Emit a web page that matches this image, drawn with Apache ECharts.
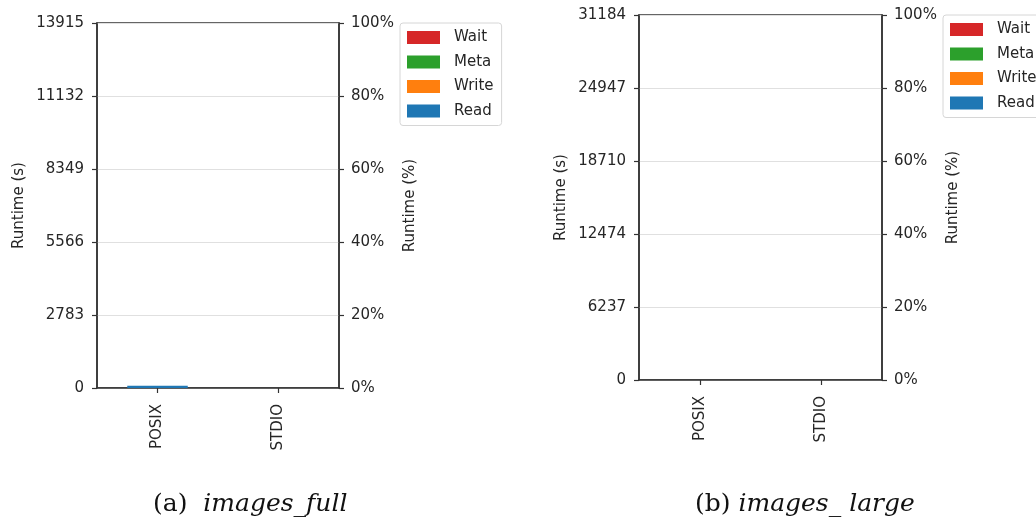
<!DOCTYPE html>
<html>
<head>
<meta charset="utf-8">
<script src="https://cdn.jsdelivr.net/npm/echarts@6/dist/echarts.min.js"></script>
<style>
html, body { margin: 0; padding: 0; background: #fff; }
#main { width: 1036px; height: 524px; }
</style>
</head>
<body>
<div id="main"></div>
<script>
// categories and values
var categories = ['POSIX', 'STDIO'];
var seriesNames = ['Read', 'Write', 'Meta', 'Wait'];
var legendOrder = ['Wait', 'Meta', 'Write', 'Read'];
var colors = ['#1f77b4', '#ff7f0e', '#2ca02c', '#d62728'];

// (a) images_full
var fullRead = [90, 0];
var fullWrite = [0, 0];
var fullMeta = [0, 0];
var fullWait = [0, 0];
var fullMax = 13915;

// (b) images_large
var largeRead = [0, 0];
var largeWrite = [0, 0];
var largeMeta = [0, 0];
var largeWait = [0, 0];
var largeMax = 31184;

var pctTicks = [0, 20, 40, 60, 80, 100];

var textColor = '#262626';
var axisColor = '#333';
var fontFam = 'DejaVu Sans';

var myChart = echarts.init(document.getElementById('main'));

function leftAxis(gridIndex, max) {
    return {
        type: 'value', gridIndex: gridIndex, position: 'left',
        min: 0, max: max, interval: max / 5,
        name: 'Runtime (s)', nameLocation: 'middle', nameGap: 70,
        nameTextStyle: {color: textColor, fontSize: 15, fontFamily: fontFam},
        axisLine: {show: true, lineStyle: {color: axisColor, width: 1.5}},
        axisTick: {show: true, length: 5, lineStyle: {color: axisColor, width: 1.2}},
        axisLabel: {
            color: textColor, fontSize: 15, fontFamily: fontFam, margin: 13,
            formatter: function (v) { return Math.round(v).toString(); }
        },
        splitLine: {show: true, lineStyle: {color: '#e0e0e0', width: 1.2}}
    };
}

function rightAxis(gridIndex) {
    return {
        type: 'value', gridIndex: gridIndex, position: 'right',
        min: pctTicks[0], max: pctTicks[pctTicks.length - 1], interval: pctTicks[1] - pctTicks[0],
        name: 'Runtime (%)', nameLocation: 'middle', nameGap: 64,
        nameTextStyle: {color: textColor, fontSize: 15, fontFamily: fontFam},
        axisLine: {show: true, lineStyle: {color: axisColor, width: 1.5}},
        axisTick: {show: true, length: 5, lineStyle: {color: axisColor, width: 1.2}},
        axisLabel: {color: textColor, fontSize: 15, fontFamily: fontFam, margin: 12, formatter: '{value}%'},
        splitLine: {show: false}
    };
}

function catAxis(gridIndex) {
    return {
        type: 'category', gridIndex: gridIndex, data: categories,
        axisLine: {show: true, lineStyle: {color: axisColor, width: 1.5}},
        axisTick: {show: true, alignWithLabel: true, length: 5, lineStyle: {color: axisColor, width: 1.2}},
        axisLabel: {color: textColor, fontSize: 15, fontFamily: fontFam, rotate: 90, margin: 16}
    };
}

function legendAt(left, top) {
    return {
        orient: 'vertical', left: left, top: top,
        data: legendOrder,
        icon: 'rect', itemWidth: 33, itemHeight: 13, itemGap: 9.5,
        padding: [7, 8, 7, 7],
        borderColor: '#d6d6d6', borderWidth: 1, borderRadius: 3,
        backgroundColor: '#fff',
        textStyle: {color: textColor, fontSize: 15, fontFamily: fontFam, padding: [0, 0, 0, 9]},
        selectedMode: false
    };
}

function barSeries(name, idx, data, axisIdx, stack) {
    return {
        name: name, type: 'bar', stack: stack,
        xAxisIndex: axisIdx, yAxisIndex: axisIdx * 2,
        barWidth: '50%', data: data,
        itemStyle: {color: colors[idx]}
    };
}

var fullData = [fullRead, fullWrite, fullMeta, fullWait];
var largeData = [largeRead, largeWrite, largeMeta, largeWait];
var series = [];
for (var i = 0; i < seriesNames.length; i++) {
    series.push(barSeries(seriesNames[i], i, fullData[i], 0, 'a'));
}
for (var i = 0; i < seriesNames.length; i++) {
    series.push(barSeries(seriesNames[i], i, largeData[i], 1, 'b'));
}

var capRich = {
    n: {fontFamily: 'DejaVu Serif', fontSize: 25, fill: '#111'},
    i: {fontFamily: 'DejaVu Serif', fontStyle: 'italic', fontSize: 25, fill: '#111'}
};

myChart.setOption({
    animation: false,
    color: colors,
    grid: [
        {left: 97, top: 23, width: 242, height: 365, show: true, borderColor: axisColor, borderWidth: 1.5, backgroundColor: '#fff'},
        {left: 639, top: 15, width: 243, height: 365, show: true, borderColor: axisColor, borderWidth: 1.5, backgroundColor: '#fff'}
    ],
    legend: [legendAt(400, 23), legendAt(943, 15)],
    xAxis: [catAxis(0), catAxis(1)],
    yAxis: [leftAxis(0, fullMax), rightAxis(0), leftAxis(1, largeMax), rightAxis(1)],
    series: series,
    graphic: [
        {
            type: 'text', left: 153, top: 492,
            style: {text: '{n|(a)}{n|  }{i|images_full}', rich: capRich}
        },
        {
            type: 'text', left: 695, top: 492,
            style: {text: '{n|(b)}{n| }{i|images_ large}', rich: capRich}
        }
    ]
});
</script>
</body>
</html>
